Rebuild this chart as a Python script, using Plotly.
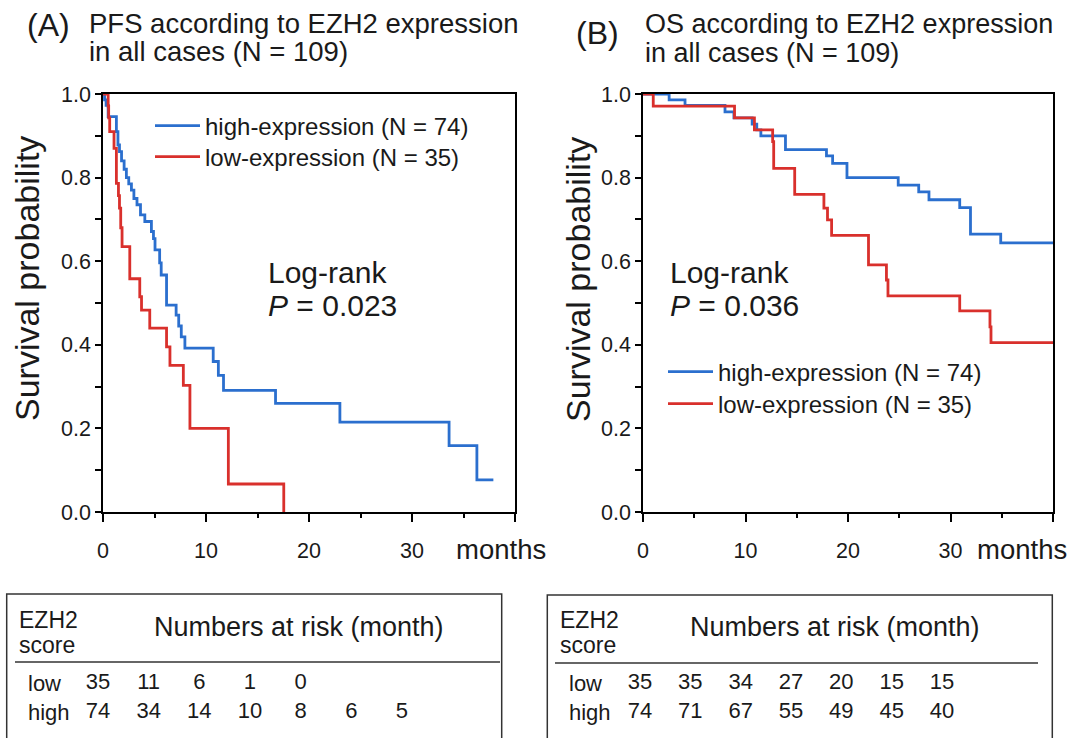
import plotly.graph_objects as go

W, H = 1073, 738
FONT = "Liberation Sans, Arial, sans-serif"
BLUE = "#2b6fce"
RED = "#d9302c"
INK = "#1a1a1a"

# ---------------- data ----------------
# Panel A: PFS
pfs_high_t = [0, 0.15, 0.3, 0.5, 1.3, 1.45, 1.6, 1.8, 2.05, 2.27, 2.5, 2.76, 3.0, 3.3, 3.64, 4.06,
              4.7, 4.9, 5.05, 5.5, 5.65, 6.17, 7.1, 7.35, 7.6, 7.95, 10.7, 11.2, 11.7, 16.75,
              23.0, 33.6, 36.3, 37.9]
pfs_high_s = [1.0, 0.986, 0.973, 0.946, 0.91, 0.878, 0.862, 0.84, 0.82, 0.80, 0.785, 0.77, 0.75,
              0.735, 0.711, 0.695, 0.671, 0.654, 0.627, 0.596, 0.567, 0.495, 0.471, 0.445, 0.419,
              0.392, 0.36, 0.327, 0.291, 0.26, 0.215, 0.159, 0.077, 0.077]
pfs_low_t = [0, 0.5, 0.55, 0.65, 1.07, 1.3, 1.5, 1.6, 1.72, 1.85, 2.6, 3.57, 3.74, 4.54, 6.17,
             6.5, 7.8, 8.44, 12.17, 17.55]
pfs_low_s = [1.0, 0.971, 0.943, 0.91, 0.87, 0.786, 0.757, 0.727, 0.68, 0.635, 0.558, 0.515,
             0.483, 0.44, 0.395, 0.351, 0.303, 0.2, 0.067, 0.0]

# Panel B: OS
os_high_t = [0, 2.55, 4.1, 8.0, 8.87, 10.65, 11.1, 11.5, 13.9, 17.9, 18.5, 19.9, 24.9, 26.9,
             27.9, 30.9, 31.95, 34.9, 40]
os_high_s = [1.0, 0.986, 0.973, 0.957, 0.943, 0.928, 0.914, 0.90, 0.867, 0.852, 0.834, 0.80,
             0.782, 0.766, 0.747, 0.728, 0.665, 0.644, 0.644]
os_low_t = [0, 1.0, 8.93, 10.87, 12.65, 12.75, 14.8, 17.65, 18.0, 18.4, 22.0, 23.75, 23.9,
            30.9, 33.85, 33.95, 40]
os_low_s = [1.0, 0.971, 0.943, 0.914, 0.886, 0.822, 0.76, 0.727, 0.699, 0.662, 0.591, 0.555,
            0.517, 0.481, 0.443, 0.405, 0.405]

# Numbers at risk
risk_months = [0, 5, 10, 15, 20, 25, 30]
pfs_risk_low = [35, 11, 6, 1, 0]
pfs_risk_high = [74, 34, 14, 10, 8, 6, 5]
os_risk_low = [35, 35, 34, 27, 20, 15, 15]
os_risk_high = [74, 71, 67, 55, 49, 45, 40]

# Labels
x_ticks = [0, 10, 20, 30, 40]
x_ticktext = ["0", "10", "20", "30", ""]
x_minor = [5, 15, 25, 35]
y_ticks = [0.0, 0.2, 0.4, 0.6, 0.8, 1.0]
y_minor = [0.1, 0.3, 0.5, 0.7, 0.9]
name_high = "high-expression (N = 74)"
name_low = "low-expression (N = 35)"


def fx(px):
    return px / W


def fy(py):
    return 1 - py / H


fig = go.Figure()

# ---------------- survival curves ----------------
fig.add_trace(go.Scatter(x=pfs_high_t, y=pfs_high_s, mode="lines", line=dict(shape="hv", color=BLUE, width=2.8),
                         name=name_high, xaxis="x", yaxis="y", legend="legend"))
fig.add_trace(go.Scatter(x=pfs_low_t, y=pfs_low_s, mode="lines", line=dict(shape="hv", color=RED, width=2.8),
                         name=name_low, xaxis="x", yaxis="y", legend="legend3"))
fig.add_trace(go.Scatter(x=os_high_t, y=os_high_s, mode="lines", line=dict(shape="hv", color=BLUE, width=2.8),
                         name=name_high, xaxis="x2", yaxis="y2", legend="legend2"))
fig.add_trace(go.Scatter(x=os_low_t, y=os_low_s, mode="lines", line=dict(shape="hv", color=RED, width=2.8),
                         name=name_low, xaxis="x2", yaxis="y2", legend="legend4"))

# ---------------- numbers at risk (as text on hidden axes) ----------------
tfont = dict(family=FONT, size=22, color=INK)
fig.add_trace(go.Scatter(x=risk_months[:len(pfs_risk_low)], y=["low"] * len(pfs_risk_low), mode="text",
                         text=[str(v) for v in pfs_risk_low], textfont=tfont, showlegend=False,
                         xaxis="x3", yaxis="y3", hoverinfo="skip"))
fig.add_trace(go.Scatter(x=risk_months[:len(pfs_risk_high)], y=["high"] * len(pfs_risk_high), mode="text",
                         text=[str(v) for v in pfs_risk_high], textfont=tfont, showlegend=False,
                         xaxis="x3", yaxis="y3", hoverinfo="skip"))
fig.add_trace(go.Scatter(x=risk_months[:len(os_risk_low)], y=["low"] * len(os_risk_low), mode="text",
                         text=[str(v) for v in os_risk_low], textfont=tfont, showlegend=False,
                         xaxis="x4", yaxis="y4", hoverinfo="skip"))
fig.add_trace(go.Scatter(x=risk_months[:len(os_risk_high)], y=["high"] * len(os_risk_high), mode="text",
                         text=[str(v) for v in os_risk_high], textfont=tfont, showlegend=False,
                         xaxis="x4", yaxis="y4", hoverinfo="skip"))

# ---------------- axes ----------------
tick_font = dict(family=FONT, size=21.5, color=INK)


def xax(domain):
    return dict(domain=domain, range=[0, 40], showline=True, mirror=True, linecolor="black", linewidth=1.5,
                tickmode="array", tickvals=x_ticks, ticktext=x_ticktext, ticks="outside", ticklen=8,
                tickwidth=1.5, tickcolor="black", tickfont=tick_font, ticklabelstandoff=10,
                minor=dict(tickvals=x_minor, ticks="outside", ticklen=4, tickwidth=1.5, tickcolor="black"),
                showgrid=False, zeroline=False, fixedrange=True, automargin=False)


def yax(anchor):
    return dict(domain=[fy(512), fy(94)], range=[0, 1], anchor=anchor, showline=True, mirror=True,
                linecolor="black", linewidth=1.5, tickmode="array", tickvals=y_ticks, tickformat=".1f",
                ticks="outside", ticklen=6, tickwidth=1.5, tickcolor="black", tickfont=tick_font,
                minor=dict(tickvals=y_minor, ticks="outside", ticklen=6, tickwidth=1.5, tickcolor="black"),
                showgrid=False, zeroline=False, fixedrange=True, automargin=False)


# table axes: month scale so that columns line up under the reference positions
ta_left, ta_right, ta_0, ta_30 = 6.7, 501.7, 98, 402
tb_left, tb_right, tb_0, tb_30 = 547.3, 1052.3, 640, 942
sa = (ta_30 - ta_0) / 30
sb = (tb_30 - tb_0) / 30
row_low_py, row_high_py, tab_top = 683, 712, 594
rs = row_high_py - row_low_py
y_tab_range = [(row_high_py - H) / rs, (row_high_py - tab_top) / rs]


def tax(left, right, zero, scale, anchor):
    return dict(domain=[fx(left), fx(right)], range=[(left - zero) / scale, (right - zero) / scale],
                visible=False, fixedrange=True, automargin=False, anchor=anchor)


def tay(anchor):
    return dict(domain=[0, fy(tab_top)], type="category", categoryarray=["high", "low"],
                range=y_tab_range, visible=False, anchor=anchor, fixedrange=True, automargin=False)


def leg(xpx, ypx):
    return dict(x=fx(xpx), y=fy(ypx), xanchor="left", yanchor="middle", bgcolor="rgba(0,0,0,0)",
                font=dict(family=FONT, size=24, color=INK), itemwidth=45, borderwidth=0)


fig.update_layout(
    width=W, height=H, margin=dict(l=0, r=0, t=0, b=0, pad=0), autosize=False,
    paper_bgcolor="white", plot_bgcolor="white",
    font=dict(family=FONT, color=INK),
    xaxis=xax([fx(103), fx(515)]), yaxis=yax("x"),
    xaxis2=xax([fx(643), fx(1053)]), yaxis2=yax("x2"),
    xaxis3=tax(ta_left, ta_right, ta_0, sa, "y3"), yaxis3=tay("x3"),
    xaxis4=tax(tb_left, tb_right, tb_0, sb, "y4"), yaxis4=tay("x4"),
    legend=leg(150, 126),
    legend3=leg(150, 157),
    legend2=leg(663, 372),
    legend4=leg(663, 404),
    showlegend=True,
)

ann = []


def text(x, y, s, size, xanchor="left", angle=0):
    ann.append(dict(x=fx(x), y=fy(y), xref="paper", yref="paper", text=s, showarrow=False,
                    xanchor=xanchor, yanchor="middle", textangle=angle,
                    font=dict(family=FONT, size=size, color=INK)))


# titles
text(25, 25, "(A)", 32)
text(87, 23, "PFS according to EZH2 expression", 27.5)
text(87, 52, "in all cases (N = 109)", 27.5)
text(574, 33, "(B)", 32)
text(643, 24, "OS according to EZH2 expression", 27)
text(643, 53, "in all cases (N = 109)", 27)
# y titles
text(27, 279, "Survival probability", 34, xanchor="center", angle=-90)
text(578, 280, "Survival probability", 34, xanchor="center", angle=-90)
# months
text(454, 549, "months", 27.5)
text(975, 549, "months", 27.5)
# log-rank
text(266, 272, "Log-rank", 30)
text(266, 305, "<i>P</i> = 0.023", 30)
text(668, 272, "Log-rank", 30)
text(668, 305, "<i>P</i> = 0.036", 30)
# tables
for x0 in (17, 558):
    text(x0, 620, "EZH2", 23)
    text(x0, 645, "score", 23)
text(299, 627, "Numbers at risk (month)", 27, xanchor="center")
text(835, 627, "Numbers at risk (month)", 27, xanchor="center")
for x0 in (26, 567):
    text(x0, row_low_py, "low", 22)
    text(x0, row_high_py, "high", 22)
fig.update_layout(annotations=ann)

shapes = []
for (l, r, top, dl, dr, dy) in ((ta_left, ta_right, 594, 15, 500, 662), (tb_left, tb_right, 595, 555, 1038, 663)):
    shapes.append(dict(type="rect", xref="paper", yref="paper", x0=fx(l), x1=fx(r), y0=fy(top), y1=fy(H + 10),
                       line=dict(color="#333333", width=1.5)))
    shapes.append(dict(type="line", xref="paper", yref="paper", x0=fx(dl), x1=fx(dr), y0=fy(dy), y1=fy(dy),
                       line=dict(color="#333333", width=1.5)))
fig.update_layout(shapes=shapes)

fig.write_html("out.html", config={"displayModeBar": False},
               post_script="document.body.style.margin='0px';")
